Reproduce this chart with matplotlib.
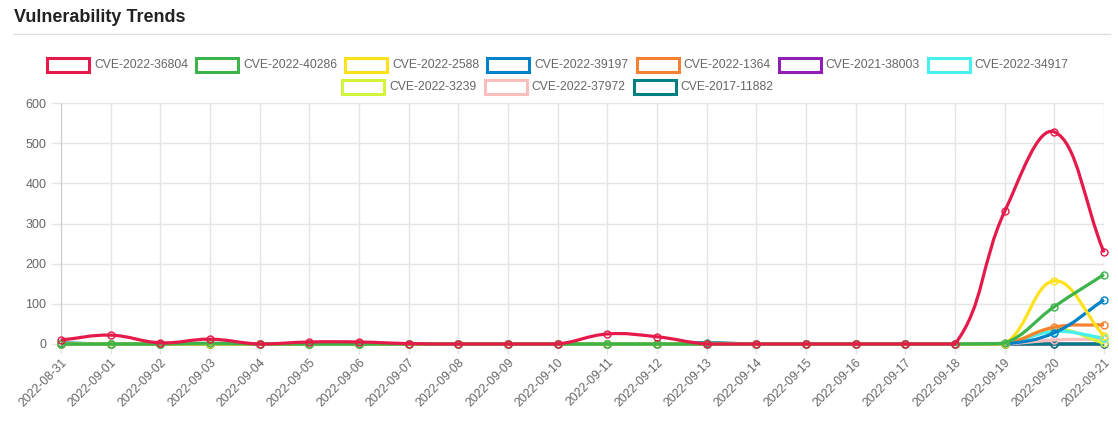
import numpy as np
import matplotlib
matplotlib.use('Agg')
import matplotlib.pyplot as plt
from matplotlib.path import Path
from matplotlib.patches import PathPatch, Rectangle

plt.rcParams['font.family'] = ['Liberation Sans', 'DejaVu Sans']

# dates on the x axis
dates = ['2022-08-31', '2022-09-01', '2022-09-02', '2022-09-03', '2022-09-04',
         '2022-09-05', '2022-09-06', '2022-09-07', '2022-09-08', '2022-09-09',
         '2022-09-10', '2022-09-11', '2022-09-12', '2022-09-13', '2022-09-14',
         '2022-09-15', '2022-09-16', '2022-09-17', '2022-09-18', '2022-09-19',
         '2022-09-20', '2022-09-21']

cve_names = ['CVE-2022-36804', 'CVE-2022-40286', 'CVE-2022-2588', 'CVE-2022-39197',
             'CVE-2022-1364', 'CVE-2021-38003', 'CVE-2022-34917', 'CVE-2022-3239',
             'CVE-2022-37972', 'CVE-2017-11882']

cve_36804 = [10, 22, 3, 12, 0, 5, 5, 1, 0, 0, 0, 25, 18, 0, 0, 0, 0, 0, 0, 330, 528, 228]
cve_40286 = [0, 0, 0, 2, 0, 0, 0, 0, 0, 0, 0, 0, 0, 0, 0, 0, 0, 0, 0, 2, 93, 173]
cve_2588 = [0, 0, 0, 0, 0, 0, 0, 0, 0, 0, 0, 0, 0, 0, 0, 0, 0, 0, 0, 0, 157, 20]
cve_39197 = [0, 0, 0, 0, 0, 0, 0, 0, 0, 0, 0, 0, 0, 0, 0, 0, 0, 0, 0, 0, 28, 110]
cve_1364 = [0, 0, 0, 0, 0, 0, 0, 0, 0, 0, 0, 0, 0, 0, 0, 0, 0, 0, 0, 0, 42, 48]
cve_38003 = [0, 0, 0, 0, 0, 0, 0, 0, 0, 0, 0, 0, 0, 0, 0, 0, 0, 0, 0, 0, 0, 0]
cve_34917 = [0, 0, 0, 0, 0, 0, 0, 0, 0, 0, 0, 0, 0, 0, 0, 0, 0, 0, 0, 0, 31, 15]
cve_3239 = [0, 0, 0, 0, 0, 0, 0, 0, 0, 0, 0, 0, 0, 0, 0, 0, 0, 0, 0, 0, 38, 2]
cve_37972 = [0, 0, 0, 0, 0, 0, 0, 0, 0, 0, 0, 0, 0, 0, 0, 0, 0, 0, 0, 0, 10, 12]
cve_11882 = [3, 0, 0, 0, 0, 0, 0, 0, 0, 0, 0, 0, 0, 3, 0, 0, 0, 0, 0, 0, 0, 0]

series = [cve_36804, cve_40286, cve_2588, cve_39197, cve_1364,
          cve_38003, cve_34917, cve_3239, cve_37972, cve_11882]
colors = ['#e6194b', '#3cb44b', '#ffe119', '#0082c8', '#f58231',
          '#911eb4', '#46f0f0', '#d2f53c', '#fabebe', '#008080']
# first dataset on top; the purple one is never visible, keep it at the back
zorders = [20, 19, 18, 17, 16, 5, 14, 13, 12, 11]

W, H = 1118, 428
fig = plt.figure(figsize=(W / 100, H / 100), dpi=100)

# axes box in pixels: left 61, right 1104, top 103, bottom 344
ax = fig.add_axes([61 / W, 1 - 344 / H, (1104 - 61) / W, (344 - 103) / H])
x = np.arange(len(dates))
ax.set_xlim(0, len(dates) - 1)
ax.set_ylim(0, 600)


def spline_path(xs, ys, tension=0.4):
    # chart.js style bezier, computed in pixel space, control points capped to the area
    pts = ax.transData.transform(np.column_stack([xs, ys]))
    bb = ax.bbox
    n = len(pts)
    cps = []
    for i in range(n):
        prev = pts[i - 1] if i > 0 else pts[i]
        nxt = pts[i + 1] if i < n - 1 else pts[i]
        d01 = np.hypot(*(pts[i] - prev))
        d12 = np.hypot(*(nxt - pts[i]))
        tot = d01 + d12
        s01 = d01 / tot if tot else 0
        s12 = d12 / tot if tot else 0
        c_prev = pts[i] - tension * s01 * (nxt - prev)
        c_next = pts[i] + tension * s12 * (nxt - prev)
        for c in (c_prev, c_next):
            c[0] = min(max(c[0], bb.x0), bb.x1)
            c[1] = min(max(c[1], bb.y0), bb.y1)
        cps.append((c_prev, c_next))
    verts = [pts[0]]
    codes = [Path.MOVETO]
    for i in range(1, n):
        verts += [cps[i - 1][1], cps[i][0], pts[i]]
        codes += [Path.CURVE4] * 3
    verts = ax.transData.inverted().transform(np.array(verts))
    return Path(verts, codes)


for vals, col, z in zip(series, colors, zorders):
    ax.add_patch(PathPatch(spline_path(x, vals), fill=False, edgecolor=col,
                           lw=2.3, zorder=z, clip_on=False))
    ax.plot(x, vals, 'o', ms=5, mfc='none', mec=col, mew=1, zorder=z, clip_on=False)

ax.set_xticks(x)
ax.set_xticklabels(dates, rotation=45, ha='right', rotation_mode='anchor')
ax.set_yticks(range(0, 601, 100))
ax.tick_params(axis='both', colors='#e5e5e5', labelcolor='#666666',
               labelsize=9, length=7, width=1)
ax.tick_params(axis='x', labelsize=8.7, pad=2)
ax.grid(True, color='#e5e5e5', lw=1)
ax.set_axisbelow(True)
for s in ['top', 'right']:
    ax.spines[s].set_visible(False)
ax.spines['left'].set_color('#cccccc')
ax.spines['bottom'].set_color('#cccccc')

# title and rule
fig.text(14 / W, 1 - 18 / H, 'Vulnerability Trends', fontsize=13,
         fontweight='bold', color='#222222', va='center', ha='left')
fig.add_artist(plt.Line2D([14 / W, 1110 / W], [1 - 34 / H, 1 - 34 / H],
                          transform=fig.transFigure, color='#dddddd', lw=1))

# legend built like the chart.js one: two centred rows of boxes
rows = [list(range(7)), list(range(7, 10))]
row_y = [65, 87]
box_w, box_h, gap_t, gap_item = 42, 13, 5, 8
renderer = fig.canvas.get_renderer()
for r, idxs in enumerate(rows):
    texts = []
    widths = []
    for i in idxs:
        t = fig.text(0, 0, cve_names[i], fontsize=8.7, color='#666666',
                     va='center', ha='left')
        w = t.get_window_extent(renderer).width
        texts.append(t)
        widths.append(box_w + gap_t + w)
    total = sum(widths) + gap_item * (len(idxs) - 1)
    cx = (W - total) / 2 - 1
    yc = row_y[r]
    for t, wd, i in zip(texts, widths, idxs):
        fig.add_artist(Rectangle((cx / W, 1 - (yc + box_h / 2) / H), box_w / W, box_h / H,
                                 transform=fig.transFigure, facecolor='white',
                                 edgecolor=colors[i], lw=2.2))
        t.set_position(((cx + box_w + gap_t) / W, 1 - yc / H))
        cx += wd + gap_item

fig.savefig('out.png', dpi=100)
